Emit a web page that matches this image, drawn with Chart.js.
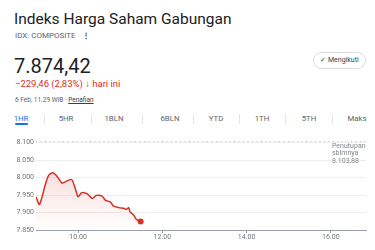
<!DOCTYPE html>
<html lang="id">
<head>
<meta charset="utf-8">
<script src="https://cdn.jsdelivr.net/npm/chart.js@4.4.1/dist/chart.umd.min.js"></script>
<style>
  html, body { margin: 0; padding: 0; background: #fff; }
  body { width: 375px; height: 250px; position: relative; overflow: hidden; font-family: Roboto, "Noto Sans", Arial, sans-serif; color: #202124; }
  .abs { position: absolute; white-space: nowrap; }
  #title { left: 14px; top: 8px; font-size: 15.5px; line-height: 22px; color: #202124; }
  #sym { left: 15px; top: 31px; font-size: 8px; line-height: 10px; color: #5f6368; }
  #sym b { font-weight: 700; margin-left: 6px; color: #3c4043; }
  #price { left: 14px; top: 54px; font-size: 20px; line-height: 24px; color: #202124; }
  #chg { left: 15px; top: 78px; font-size: 9.5px; line-height: 12px; color: #d93025; }
  #chg .arr { font-weight: 900; }
  #date { left: 15px; top: 96px; font-size: 6.5px; line-height: 9px; color: #5f6368; }
  #date u { color: #3c4043; }
  #follow { left: 313px; top: 52px; width: 53px; height: 17px; box-sizing: border-box; border: 1px solid #dadce0; border-radius: 9px; font-size: 7px; line-height: 15px; color: #3c4043; text-align: center; }
  .tab { top: 114px; font-size: 7.8px; line-height: 10px; color: #5f6368; transform: translateX(-50%); }
  .tab.on { color: #1a73e8; }
  #uline { left: 15px; top: 123px; width: 13px; height: 2px; border-radius: 1px; background: #1a73e8; }
  .sep { top: 114px; width: 1px; height: 10px; background: #e3e5e8; }
  #chartBox { position: absolute; left: 0; top: 130px; width: 375px; height: 120px; }
</style>
</head>
<body>
<div class="abs" id="title">Indeks Harga Saham Gabungan</div>
<div class="abs" id="sym">IDX: COMPOSITE<b>&#8942;</b></div>
<div class="abs" id="price">7.874,42</div>
<div class="abs" id="chg">&minus;229,46 (2,83%) <span class="arr">&darr;</span> hari ini</div>
<div class="abs" id="date">6 Feb, 11.29 WIB &middot; <u>Penafian</u></div>
<div class="abs" id="follow">&#10003; Mengikuti</div>
<div id="tabs"></div>
<div class="abs" id="uline"></div>
<div id="chartBox"><canvas id="c" width="375" height="120"></canvas></div>
<script>
// Intraday series (WIB clock time) for the composite index
const times = ['09:00','09:05','09:13','09:18','09:24','09:29','09:37','09:41','09:46','09:51','09:56','10:00','10:05','10:10','10:14','10:20','10:26','10:34','10:39','10:46','10:50','10:58','11:05','11:09','11:12','11:14','11:19','11:23','11:26','11:29'];
const values = [7945,7923,7978,8006,8014,8006,7984,7987,7992,7994,7968,7945,7957,7956,7952,7940,7949,7947,7935,7930,7919,7914,7912,7909,7914,7902,7893,7880,7877,7874.42];
const prevClose = 8103.88;
const yTicks = [7850,7900,7950,8000,8050,8100];
const xTickTimes = ['10:00','12:00','14:00','16:00'];
const sessionStart = '09:00';
const sessionEnd = '16:50';
const tabLabels = ['1HR','5HR','1BLN','6BLN','YTD','1TH','5TH','Maks'];

// period selector row
(function () {
  const box = document.getElementById('tabs');
  const centers = [21,66,114,170,216,262,309,357];
  const seps = [44,91,142,193,239,285,332];
  tabLabels.forEach((t, i) => {
    const d = document.createElement('div');
    d.className = 'abs tab' + (i === 0 ? ' on' : '');
    d.style.left = centers[i] + 'px';
    d.textContent = t;
    box.appendChild(d);
  });
  seps.forEach(x => {
    const s = document.createElement('div');
    s.className = 'abs sep';
    s.style.left = x + 'px';
    box.appendChild(s);
  });
})();

const toMin = t => { const [h, m] = t.split(':').map(Number); return h * 60 + m; };
const t0 = toMin(sessionStart);
const series = times.map((t, i) => ({ x: toMin(t) - t0, y: values[i] }));
const xMax = toMin(sessionEnd) - t0;
const fmtId = v => v.toLocaleString('de-DE', { minimumFractionDigits: 0 });

const RED = '#d93025';
const GREY = '#70757a';

const prevCloseLabel = {
  id: 'prevCloseLabel',
  afterDraw(chart) {
    const { ctx, chartArea, scales } = chart;
    const y = scales.y.getPixelForValue(prevClose);
    ctx.save();
    ctx.fillStyle = '#80868b';
    ctx.font = '7px Roboto, Arial, sans-serif';
    ctx.textAlign = 'left';
    ctx.textBaseline = 'middle';
    const x = chartArea.right - 34;
    ctx.fillText('Penutupan', x, y + 5);
    ctx.fillText('sblmnya', x, y + 12.5);
    ctx.fillText(prevClose.toLocaleString('de-DE', { minimumFractionDigits: 2 }), x, y + 20);
    ctx.restore();
  }
};

new Chart(document.getElementById('c'), {
  type: 'line',
  data: {
    datasets: [
      {
        data: series,
        borderColor: RED,
        borderWidth: 1.5,
        tension: 0.25,
        fill: 'start',
        backgroundColor(ctx) {
          const { chart } = ctx;
          const area = chart.chartArea;
          if (!area) return 'rgba(217,48,37,0.1)';
          const top = chart.scales.y.getPixelForValue(8020);
          const g = chart.ctx.createLinearGradient(0, top, 0, area.bottom);
          g.addColorStop(0, 'rgba(217,48,37,0.16)');
          g.addColorStop(1, 'rgba(217,48,37,0)');
          return g;
        },
        pointRadius: series.map((p, i) => i === series.length - 1 ? 3 : 0),
        pointBackgroundColor: RED,
        pointBorderWidth: 0,
        order: 1
      },
      {
        data: [{ x: 0, y: prevClose }, { x: xMax, y: prevClose }],
        borderColor: '#9aa0a6',
        borderWidth: 1,
        borderDash: [1, 3.5],
        pointRadius: 0,
        fill: false,
        order: 2
      }
    ]
  },
  options: {
    responsive: false,
    animation: false,
    layout: { padding: { top: 11, right: 9, left: 0, bottom: 0 } },
    plugins: { legend: { display: false }, tooltip: { enabled: false } },
    scales: {
      x: {
        type: 'linear',
        min: 0,
        max: xMax,
        afterBuildTicks(scale) { scale.ticks = xTickTimes.map(t => ({ value: toMin(t) - t0 })); },
        afterFit(scale) { scale.height = 20; },
        ticks: {
          callback: v => { const m = v + t0; return String(Math.floor(m / 60)).padStart(2, '0') + '.' + String(m % 60).padStart(2, '0'); },
          color: GREY,
          font: { size: 7, family: 'Roboto, Arial, sans-serif' },
          padding: 0,
          maxRotation: 0
        },
        grid: { drawOnChartArea: false, drawTicks: true, tickLength: 3, color: '#9aa0a6' },
        border: { display: true, color: '#9aa0a6', width: 1 }
      },
      y: {
        min: 7850,
        max: 8104.5,
        afterBuildTicks(scale) { scale.ticks = yTicks.map(v => ({ value: v })); },
        afterFit(scale) { scale.width = 36; },
        ticks: {
          callback: v => fmtId(v),
          color: GREY,
          font: { size: 7, family: 'Roboto, Arial, sans-serif' },
          padding: 2
        },
        grid: { color: '#eeeeee', drawTicks: false, lineWidth: 1 },
        border: { display: false }
      }
    }
  },
  plugins: [prevCloseLabel]
});
</script>
</body>
</html>
